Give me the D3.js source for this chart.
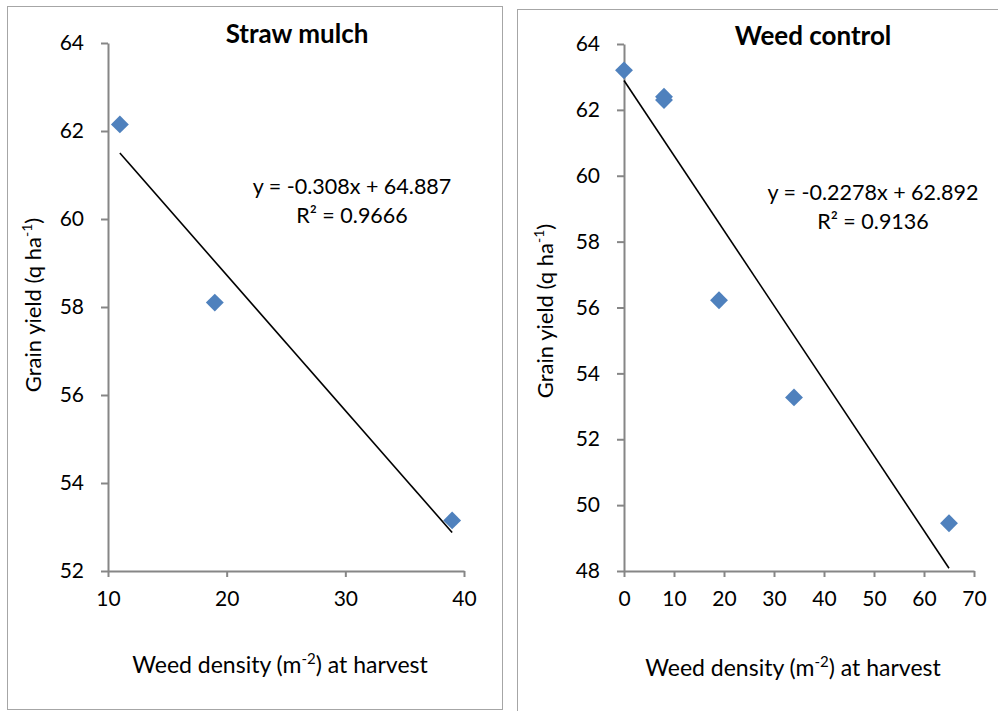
<!DOCTYPE html>
<html>
<head>
<meta charset="utf-8">
<script src="https://cdn.jsdelivr.net/npm/d3@7"></script>
<style>
  html, body { margin: 0; padding: 0; background: #fff; }
  svg { display: block; font-family: Lato, "Open Sans", sans-serif; }
</style>
</head>
<body>
<svg id="chart" width="998" height="711"></svg>
<script>
// Straw mulch panel
const strawDensity = [11, 19, 39];
const strawYield = [62.15, 58.1, 53.15];
const strawXTicks = [10, 20, 30, 40];
const strawYTicks = [52, 54, 56, 58, 60, 62, 64];
const strawFit = { slope: -0.308, intercept: 64.887, r2: "0.9666" };

// Weed control panel
const weedDensity = [0, 8, 8, 19, 34, 65];
const weedYield = [63.2, 62.4, 62.3, 56.22, 53.27, 49.45];
const weedXTicks = [0, 10, 20, 30, 40, 50, 60, 70];
const weedYTicks = [48, 50, 52, 54, 56, 58, 60, 62, 64];
const weedFit = { slope: -0.2278, intercept: 62.892, r2: "0.9136" };

const svg = d3.select("#chart");
const axisColor = "#868686";
const markerColor = "#4F81BD";

function panel(cfg) {
  const g = svg.append("g");

  // outer chart frame
  g.append("rect")
    .attr("x", cfg.frame[0] + 0.5).attr("y", cfg.frame[1] + 0.5)
    .attr("width", cfg.frame[2]).attr("height", cfg.frame[3])
    .attr("fill", "none").attr("stroke", "#a6a6a6").attr("stroke-width", 1);

  const x = d3.scaleLinear().domain(cfg.xDomain).range([cfg.plot.left, cfg.plot.right]);
  const y = d3.scaleLinear().domain(cfg.yDomain).range([cfg.plot.bottom, cfg.plot.top]);

  const xAxis = g.append("g")
    .attr("transform", `translate(0,${cfg.plot.bottom})`)
    .call(d3.axisBottom(x).tickValues(cfg.xTicks).tickSize(6).tickPadding(14).tickSizeOuter(0));
  const yAxis = g.append("g")
    .attr("transform", `translate(${cfg.plot.left},0)`)
    .call(d3.axisLeft(y).tickValues(cfg.yTicks).tickSize(7).tickPadding(17).tickSizeOuter(0));

  [xAxis, yAxis].forEach(a => {
    a.select(".domain").attr("stroke", axisColor).attr("stroke-width", 2);
    a.selectAll(".tick line").attr("stroke", axisColor).attr("stroke-width", 2);
    a.selectAll(".tick text")
      .attr("fill", "#000")
      .style("font-size", "21px")
      .style("font-family", "Lato, sans-serif");
  });

  // linear trendline from the fitted equation
  const [x0, x1] = d3.extent(cfg.xs);
  const f = v => cfg.fit.slope * v + cfg.fit.intercept;
  g.append("line")
    .attr("x1", x(x0)).attr("y1", y(f(x0)))
    .attr("x2", x(x1)).attr("y2", y(f(x1)))
    .attr("stroke", "#000").attr("stroke-width", 1.6);

  // diamond markers
  const diamond = d3.symbol().type(d3.symbolSquare).size(160);
  g.selectAll("path.pt")
    .data(cfg.xs.map((v, i) => [v, cfg.ys[i]]))
    .join("path")
    .attr("class", "pt")
    .attr("d", diamond)
    .attr("transform", d => `translate(${x(d[0])},${y(d[1])}) rotate(45)`)
    .attr("fill", markerColor);

  // title
  g.append("text")
    .attr("x", cfg.title.x).attr("y", cfg.title.y)
    .attr("text-anchor", "middle")
    .style("font-size", "26px").style("font-weight", "bold")
    .text(cfg.title.text);

  // equation and R²
  const fmtSign = cfg.fit.intercept >= 0 ? " + " : " - ";
  g.append("text")
    .attr("x", cfg.eq.x).attr("y", cfg.eq.y)
    .attr("text-anchor", "middle").style("font-size", "21.5px")
    .text(`y = ${cfg.fit.slope}x${fmtSign}${Math.abs(cfg.fit.intercept)}`);
  g.append("text")
    .attr("x", cfg.eq.x).attr("y", cfg.eq.y + 29)
    .attr("text-anchor", "middle").style("font-size", "21.5px")
    .text(`R² = ${cfg.fit.r2}`);

  // x axis title
  const xt = g.append("text")
    .attr("x", cfg.xLabel.x).attr("y", cfg.xLabel.y)
    .attr("text-anchor", "middle").style("font-size", "23px");
  xt.append("tspan").text("Weed density (m");
  xt.append("tspan").attr("dy", -9).style("font-size", "15px").text("-2");
  xt.append("tspan").attr("dy", 9).text(") at harvest");

  // y axis title
  const yt = g.append("text")
    .attr("transform", `translate(${cfg.yLabel.x},${cfg.yLabel.y}) rotate(-90)`)
    .attr("text-anchor", "middle").style("font-size", "22px");
  yt.append("tspan").text("Grain yield (q ha");
  yt.append("tspan").attr("dy", -9).style("font-size", "14px").text("-1");
  yt.append("tspan").attr("dy", 9).text(")");
}

panel({
  frame: [7, 6, 495, 703],
  plot: { left: 108, right: 464, top: 43, bottom: 571 },
  xDomain: [10, 40], yDomain: [52, 64],
  xTicks: strawXTicks, yTicks: strawYTicks,
  xs: strawDensity, ys: strawYield, fit: strawFit,
  title: { text: "Straw mulch", x: 297, y: 43 },
  eq: { x: 352, y: 194 },
  xLabel: { x: 280, y: 673 },
  yLabel: { x: 41, y: 305 }
});

panel({
  frame: [517, 9, 500, 720],
  plot: { left: 624, right: 974, top: 44, bottom: 571 },
  xDomain: [0, 70], yDomain: [48, 64],
  xTicks: weedXTicks, yTicks: weedYTicks,
  xs: weedDensity, ys: weedYield, fit: weedFit,
  title: { text: "Weed control", x: 813, y: 45 },
  eq: { x: 873, y: 200 },
  xLabel: { x: 793, y: 676 },
  yLabel: { x: 553, y: 311 }
});
</script>
</body>
</html>
